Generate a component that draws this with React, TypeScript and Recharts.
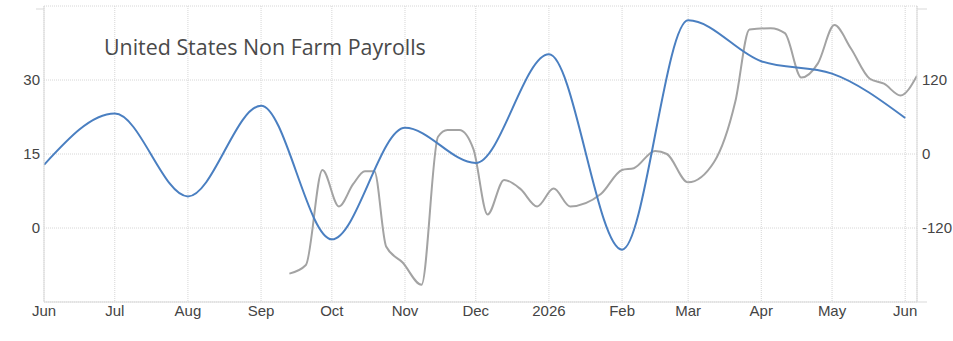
import React from "react";
import { LineChart, Line, XAxis, YAxis, CartesianGrid } from "recharts";

// monthly series (left axis)
const payrollDates = [
  "2025-06-01", "2025-07-01", "2025-08-01", "2025-09-01", "2025-10-01", "2025-11-01",
  "2025-12-01", "2026-01-01", "2026-02-01", "2026-03-01", "2026-04-01", "2026-05-01", "2026-06-01",
];
const payrollValues = [12.8, 23.2, 6.4, 24.8, -2.3, 20.3, 13.2, 35.2, -4.4, 42.1, 33.8, 31.3, 22.3];

// weekly series (right axis)
const weeklyDates = [
  "2025-09-13", "2025-09-20", "2025-09-27", "2025-10-04", "2025-10-10", "2025-10-15", "2025-10-19",
  "2025-10-24", "2025-10-31", "2025-11-08", "2025-11-15", "2025-11-19", "2025-11-24", "2025-11-30",
  "2025-12-06", "2025-12-13", "2025-12-20", "2025-12-27", "2026-01-03", "2026-01-10", "2026-01-23",
  "2026-02-01", "2026-02-06", "2026-02-15", "2026-02-20", "2026-03-01", "2026-03-12", "2026-03-21",
  "2026-03-27", "2026-04-05", "2026-04-11", "2026-04-18", "2026-04-25", "2026-05-02", "2026-05-09",
  "2026-05-17", "2026-05-23", "2026-05-30", "2026-06-06",
];
const weeklyValues = [
  -194, -180, -26, -85, -49, -28, -28,
  -150, -176, -212, 28, 39, 39, 8,
  -98, -42, -57, -85, -56, -85, -65,
  -26, -23, 5, 0, -46, -13, 85,
  202, 204, 196, 124, 147, 209, 171,
  122, 114, 95, 127,
];

const monthTicks = [
  "2025-06-01", "2025-07-01", "2025-08-01", "2025-09-01", "2025-10-01", "2025-11-01",
  "2025-12-01", "2026-01-01", "2026-02-01", "2026-03-01", "2026-04-01", "2026-05-01", "2026-06-01",
];
const monthLabels = ["Jun", "Jul", "Aug", "Sep", "Oct", "Nov", "Dec", "2026", "Feb", "Mar", "Apr", "May", "Jun"];

const leftTicks = [-15, 0, 15, 30, 45];
const rightTicks = [-240, -120, 0, 120, 240];

const ts = (d: string) => Date.parse(d + "T00:00:00Z");

const payrollData = payrollDates.map((d, i) => ({ t: ts(d), v: payrollValues[i] }));
const weeklyData = weeklyDates.map((d, i) => ({ t: ts(d), v: weeklyValues[i] }));
const xTicks = monthTicks.map(ts);
const xDomain = [ts("2025-06-01"), ts("2026-06-06")];

const AXIS = "#d9d9d9";
const TEXT = "#444";
const FONT = "'Liberation Sans', Arial, sans-serif";

const LeftTick = (props: any) => {
  const { x, y, payload } = props;
  if (payload.value === 45) return <line x1={x - 4} x2={x + 4} y1={y} y2={y} stroke={AXIS} />;
  if (payload.value === -15) return <g />;
  return (
    <text x={x} y={y} dy="0.355em" textAnchor="end" fill={TEXT} fontSize={15} fontFamily={FONT}>
      {payload.value}
    </text>
  );
};

const RightTick = (props: any) => {
  const { x, y, payload } = props;
  if (payload.value === 240 || payload.value === -240)
    return <line x1={x - 5} x2={x + 5} y1={y} y2={y} stroke={AXIS} />;
  return (
    <text x={x} y={y} dy="0.355em" textAnchor="start" fill={TEXT} fontSize={15} fontFamily={FONT}>
      {payload.value}
    </text>
  );
};

export default function App() {
  return (
    <div style={{ position: "absolute", left: 0, top: 0, width: 953, height: 341, background: "#fff" }}>
      <LineChart width={953} height={341} margin={{ top: 6, right: 0, bottom: 0, left: 0 }}>
        <CartesianGrid stroke="#d6d6d6" strokeDasharray="1 1" yAxisId="left" />
        <XAxis
          dataKey="t"
          type="number"
          domain={xDomain}
          ticks={xTicks}
          allowDataOverflow
          height={39}
          stroke={AXIS}
          tickLine={false}
          tickSize={0}
          tickMargin={3}
          tick={{ fill: TEXT, fontSize: 15, fontFamily: FONT }}
          tickFormatter={(v: number) => monthLabels[xTicks.indexOf(v)]}
        />
        <YAxis
          yAxisId="left"
          orientation="left"
          width={44}
          domain={[-15, 45]}
          ticks={leftTicks}
          stroke={AXIS}
          tickLine={false}
          tickSize={0}
          tickMargin={4}
          tick={<LeftTick />}
        />
        <YAxis
          yAxisId="right"
          orientation="right"
          width={36}
          domain={[-240, 240]}
          ticks={rightTicks}
          stroke={AXIS}
          tickLine={false}
          tickSize={0}
          tickMargin={5}
          tick={<RightTick />}
        />
        <Line
          yAxisId="right"
          data={weeklyData}
          dataKey="v"
          type="monotone"
          stroke="#a3a3a3"
          strokeWidth={2}
          dot={false}
          isAnimationActive={false}
        />
        <Line
          yAxisId="left"
          data={payrollData}
          dataKey="v"
          type="monotone"
          stroke="#4a7fc1"
          strokeWidth={2}
          dot={false}
          isAnimationActive={false}
        />
      </LineChart>
      <div
        style={{
          position: "absolute",
          left: 104,
          top: 36,
          fontFamily: "'Open Sans', sans-serif",
          fontSize: 21.4,
          lineHeight: 1,
          color: "#4a4a4a",
          whiteSpace: "nowrap",
        }}
      >
        United States Non Farm Payrolls
      </div>
    </div>
  );
}
